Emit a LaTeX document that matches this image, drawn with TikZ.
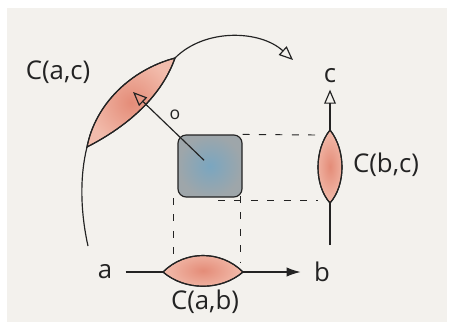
\documentclass[tikz,border=0pt]{standalone}
\usepackage{fontspec}
\setmainfont{Open Sans}
\usetikzlibrary{arrows.meta}
\definecolor{paper}{RGB}{243,241,237}
\definecolor{ink}{RGB}{35,35,35}
\definecolor{salmonin}{RGB}{228,140,120}
\definecolor{salmonout}{RGB}{242,188,172}
\definecolor{bluewash}{RGB}{122,166,192}
\definecolor{graywash}{RGB}{158,166,170}

\begin{document}
\begin{tikzpicture}[x=0.03cm, y=-0.03cm,
    every node/.style={font=\fontsize{22}{26}\selectfont, text=ink},
    pen/.style={draw=ink, line width=1pt},
    lens/.style={pen, inner color=salmonin, outer color=salmonout},
    guide/.style={draw=ink, line width=0.8pt, dash pattern=on 6pt off 8pt},
    hollow/.style={-{Triangle[open, length=12pt, width=10pt]}}
  ]
  \fill[white] (0,0) rectangle (454,328);
  \fill[paper] (7,8) rectangle (447,322);
  \useasboundingbox (0,0) rectangle (454,328);

  % objects and labels
  \node (a) at (105,272) {a};
  \node (b) at (322,272) {b};
  \node (c) at (330,76) {c};
  \node (ab) at (205,302) {C(a,b)};
  \node (bc) at (386,165) {C(b,c)};
  \node (ac) at (58,72) {C(a,c)};
  \node[font=\fontsize{15}{18}\selectfont] (o) at (175,115) {o};
  \node[pen, inner color=bluewash, outer color=graywash, rounded corners=7pt,
        minimum width=1.92cm, minimum height=1.86cm] (sq) at (210,166) {};

  \coordinate (arcstart) at (88,246);
  \coordinate (arctip) at (293,60);
  \coordinate (otip) at (133,92);
  \coordinate (bcstart) at (330,245);

  % dashed projections
  \draw[guide] (sq.north east) -- (316,135);
  \draw[guide] (218,200) -- (318,200);
  \draw[guide] (173,198) -- (173,260);
  \draw[guide] (240,196) -- (240,262);

  % morphisms
  \draw[pen, -{Latex[length=12pt, width=8pt]}, shorten <=8pt, shorten >=8pt] (a) -- (b);
  \draw[pen, hollow, shorten >=2pt] (bcstart) -- (c);
  \draw[pen] (arcstart) .. controls (80,210) and (80,175) .. (87,147);
  \draw[pen, hollow] (175,58) .. controls (205,28) and (260,30) .. (arctip);

  % the lenses
  \shade[lens] (163,272) .. controls (185,250) and (221,250) .. (243,272)
    .. controls (221,291) and (185,291) .. cycle;
  \draw[pen] (163,272) .. controls (185,250) and (221,250) .. (243,272)
    .. controls (221,291) and (185,291) .. cycle;
  \shade[lens] (330,130) .. controls (314,150) and (314,185) .. (330,203)
    .. controls (346,185) and (346,150) .. cycle;
  \draw[pen] (330,130) .. controls (314,150) and (314,185) .. (330,203)
    .. controls (346,185) and (346,150) .. cycle;
  \shade[lens] (87,147) .. controls (95,105) and (130,70) .. (175,58)
    .. controls (162,95) and (130,125) .. cycle;
  \draw[pen] (87,147) .. controls (95,105) and (130,70) .. (175,58)
    .. controls (162,95) and (130,125) .. cycle;

  \draw[pen, hollow, shorten <=7pt] (sq.center) -- (otip);
\end{tikzpicture}
\end{document}
